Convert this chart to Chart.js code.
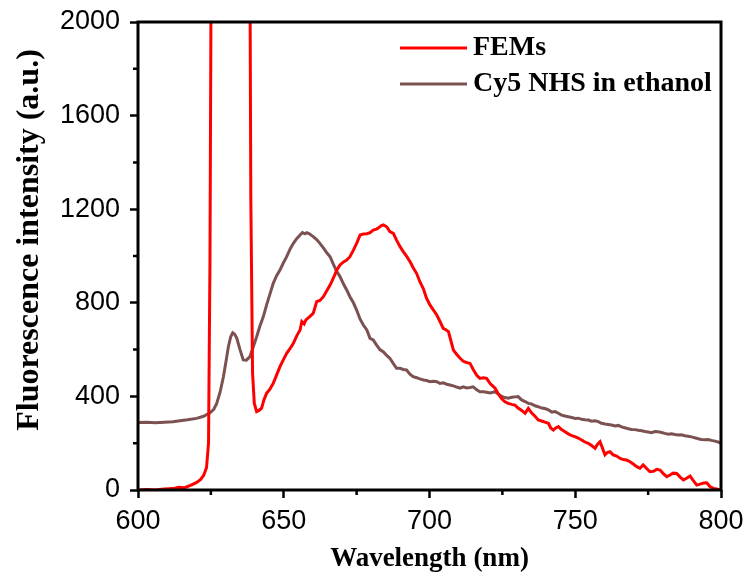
<!DOCTYPE html>
<html>
<head>
<meta charset="utf-8">
<script src="https://cdn.jsdelivr.net/npm/chart.js@4.4.1/dist/chart.umd.min.js"></script>
<style>
  html, body { margin: 0; padding: 0; background: #fff; }
  #wrap { width: 749px; height: 584px; }
</style>
</head>
<body>
<div id="wrap"><canvas id="chart" width="749" height="584"></canvas></div>
<script>
const COLORS = { fems: "#ff0000", cy5: "#7b5251", axis: "#000" };

const xTicks = [600, 650, 700, 750, 800];
const xMinor = [625, 675, 725, 775];
const yTicks = [0, 400, 800, 1200, 1600, 2000];
const yMinor = [200, 600, 1000, 1400, 1800];
const labels = ["FEMs", "Cy5 NHS in ethanol"];
const yTitle = "Fluorescence intensity (a.u.)";
const xTitle = "Wavelength (nm)";

// FEMs (red) — wavelength / intensity; the peak between 625 and 638 runs off scale
const femsX = [600, 603, 606, 609, 612, 614, 616, 618, 620, 621.5, 622.5, 623.5, 624.2, 624.7, 625.2,
  638.3, 638.7, 639.3, 639.9, 640.7, 641.5, 642.4, 643.2, 644.1, 645.2, 646.4, 647.5, 648.7, 649.8, 651,
  652.2, 653.3, 654.5, 655.6, 656.2, 657, 657.6, 658.8, 660.1, 661.3, 662.4, 663.6, 664.7, 665.9, 667,
  668.2, 669.3, 670.5, 671.6, 672.7, 673.9, 675, 676.2, 677.3, 678.5, 679.6, 680.7, 681.8, 682.4, 683.5,
  684.2, 685.3, 686.4, 687.6, 688.7, 689.9, 691, 692.1, 693.3, 694.4, 695.6, 696.7, 697.9, 699, 700.2,
  701.3, 702.5, 703.6, 704.7, 705.6, 706.5, 707.3, 708.2, 709.3, 710.5, 711.6, 712.7, 713.9, 715, 716.2,
  717.3, 718.5, 719.6, 720.8, 722.5, 723.6, 724.8, 725.9, 727, 728.2, 729.3, 730.4, 731.6, 732.8, 733.9,
  735, 736.2, 737.3, 738.5, 739.6, 740.8, 741.6, 742.5, 743.3, 744.2, 745.3, 746.5, 747.6, 748.8, 749.9,
  751, 752.2, 753.3, 754.5, 755.6, 756.8, 757.6, 758.5, 759.3, 760.2, 761, 761.9, 763, 764.2, 765.4,
  766.5, 767.6, 768.8, 770, 771.1, 772.2, 773.3, 774.5, 775.6, 776.8, 778, 779.1, 780.2, 781.4, 782.5,
  783.6, 784.8, 786, 787.1, 788.2, 789.4, 790.5, 791.7, 792.8, 794, 795.1, 796.2, 797.4, 798.5, 799.7];
const femsY = [0, 2, 0, 4, 6, 12, 10, 20, 31, 45, 62, 95, 200, 1000, 2600,
  2600, 1250, 500, 370, 335, 340, 350, 385, 413, 430, 456, 490, 527, 555, 584,
  605, 627, 660, 684, 720, 710, 727, 740, 755, 805, 810, 826, 850, 876, 905,
  940, 962, 975, 983, 997, 1025, 1054, 1090, 1094, 1095, 1100, 1111, 1115, 1120, 1130,
  1133, 1125, 1104, 1097, 1068, 1040, 1019, 1000, 976, 950, 925, 890, 860, 819, 790,
  770, 748, 720, 691, 685, 677, 640, 598, 580, 563, 550, 545, 541, 515, 490,
  477, 480, 477, 455, 435, 410, 390, 377, 370, 366, 363, 350, 340, 328, 349,
  330, 315, 299, 295, 290, 285, 265, 256, 265, 271, 258, 249, 240, 232, 228,
  222, 214, 205, 199, 190, 178, 195, 206, 180, 150, 160, 164, 150, 145, 135,
  130, 128, 121, 110, 100, 93, 107, 92, 78, 80, 88, 85, 70, 57, 64,
  72, 71, 55, 43, 50, 60, 40, 21, 25, 30, 31, 15, 7, 4, 0];

// Cy5 NHS in ethanol (brown)
const cy5X = [600, 603, 606, 609, 612, 614.4, 617, 620.1, 622.5, 624.7, 626, 627, 628.2, 629.3, 630.2,
  631, 631.8, 632.5, 633.2, 633.9, 635, 636.1, 637.2, 638.4, 639.5, 640.7, 641.8, 643, 644.1, 645.2,
  646.4, 647.5, 648.7, 649.8, 651, 652.2, 653.3, 654.5, 655.6, 656.4, 657.3, 657.9, 658.8, 660.1, 661.3,
  662.4, 663.6, 664.7, 665.9, 667, 668.2, 669.3, 670.5, 671.6, 672.7, 673.9, 675, 676.2, 677.3, 678.5,
  679.6, 680.7, 681.8, 683, 684.2, 685.3, 686.4, 687.6, 688.7, 689.9, 691, 692.1, 693.3, 694.4, 695.6,
  696.7, 697.9, 699, 700.2, 701.3, 702.5, 703.6, 704.7, 705.9, 707, 708.2, 709.3, 710.5, 711.6, 712.7,
  713.9, 715, 716.2, 717.3, 718.5, 719.6, 720.8, 722.5, 723.6, 724.8, 725.9, 727, 728.2, 729.3, 730.4,
  731.6, 732.8, 733.9, 735, 736.2, 737.3, 738.5, 739.6, 740.8, 742, 743.1, 744.2, 745.3, 746.5, 747.6,
  748.8, 750, 751.1, 752.2, 753.3, 754.5, 755.6, 756.8, 757.9, 759, 760.2, 761.3, 762.5, 763.6, 764.8,
  765.9, 767, 768.2, 769.3, 770.5, 771.6, 772.8, 773.9, 775, 776.2, 777.3, 778.4, 779.6, 780.7, 781.9,
  783, 784.2, 785.3, 786.4, 787.6, 788.7, 789.9, 791, 792.2, 793.3, 794.5, 795.6, 796.7, 797.9, 799, 800];
const cy5Y = [288, 290, 287, 290, 292, 296, 300, 306, 315, 330, 345, 370, 420, 484, 550,
  612, 655, 672, 665, 648, 600, 556, 555, 570, 610, 655, 700, 741, 790, 835,
  883, 915, 940, 969, 997, 1030, 1054, 1075, 1090, 1100, 1095, 1100, 1095, 1083, 1070,
  1054, 1035, 1015, 997, 965, 933, 912, 880, 855, 826, 800, 769, 730, 705, 684,
  648, 641, 620, 600, 590, 575, 563, 540, 520, 520, 515, 513, 495, 484, 480,
  475, 470, 468, 463, 465, 463, 455, 458, 452, 449, 445, 440, 435, 441, 436,
  438, 441, 428, 420, 420, 418, 415, 420, 410, 400, 395, 392, 396, 398, 399,
  385, 378, 370, 368, 360, 356, 350, 348, 342, 333, 335, 328, 320, 316, 313,
  310, 306, 307, 302, 300, 299, 294, 296, 292, 285, 282, 280, 278, 274, 276,
  270, 266, 262, 259, 258, 255, 253, 250, 248, 245, 250, 249, 246, 242, 238,
  240, 237, 235, 236, 232, 230, 227, 223, 219, 216, 215, 216, 212, 209, 205, 200];

const toPoints = (xs, ys) => xs.map((x, i) => ({ x, y: ys[i] }));

const SERIF = "'Liberation Serif', 'Times New Roman', serif";
const TICK_FONT = { family: "'Liberation Sans', Arial, sans-serif", size: 27 };
const TITLE_FONT = { family: SERIF, size: 27, weight: "bold" };

// box round the plot plus the short minor ticks
const framePlugin = {
  id: "frame",
  afterDraw(chart) {
    const { ctx, chartArea: a, scales } = chart;
    ctx.save();
    ctx.strokeStyle = COLORS.axis;
    ctx.lineWidth = 3;
    ctx.strokeRect(a.left, a.top, a.right - a.left, a.bottom - a.top);
    ctx.lineWidth = 2.5;
    ctx.beginPath();
    xMinor.forEach((v) => {
      const px = scales.x.getPixelForValue(v);
      ctx.moveTo(px, a.bottom);
      ctx.lineTo(px, a.bottom + 5);
    });
    yMinor.forEach((v) => {
      const py = scales.y.getPixelForValue(v);
      ctx.moveTo(a.left, py);
      ctx.lineTo(a.left - 5, py);
    });
    ctx.stroke();

    // y title sits a little above the middle of the axis in the original
    ctx.save();
    ctx.translate(30, (a.top + a.bottom) / 2 - 16);
    ctx.rotate(-Math.PI / 2);
    ctx.font = `bold 32px ${SERIF}`;
    ctx.fillStyle = "#000";
    ctx.textAlign = "center";
    ctx.textBaseline = "middle";
    ctx.fillText(yTitle, 0, 0);
    ctx.restore();
    ctx.restore();
  },
};

// legend drawn inside the plot, top right
const legendPlugin = {
  id: "insideLegend",
  afterDraw(chart) {
    const { ctx, chartArea: a } = chart;
    ctx.save();
    ctx.font = `bold 28px ${SERIF}`;
    ctx.textBaseline = "middle";
    chart.data.datasets.forEach((ds, i) => {
      const y = a.top + 26 + i * 36;
      const x0 = a.right - 321;
      ctx.strokeStyle = ds.borderColor;
      ctx.lineWidth = 3;
      ctx.beginPath();
      ctx.moveTo(x0, y);
      ctx.lineTo(x0 + 67, y);
      ctx.stroke();
      ctx.fillStyle = "#000";
      ctx.fillText(ds.label, x0 + 73, y);
    });
    ctx.restore();
  },
};

new Chart(document.getElementById("chart"), {
  type: "line",
  data: {
    datasets: [
      { label: labels[0], data: toPoints(femsX, femsY), borderColor: COLORS.fems },
      { label: labels[1], data: toPoints(cy5X, cy5Y), borderColor: COLORS.cy5 },
    ],
  },
  options: {
    responsive: false,
    animation: false,
    layout: { padding: { top: 22, right: 28, left: 0, bottom: 0 } },
    elements: { point: { radius: 0 }, line: { borderWidth: 3, tension: 0 } },
    plugins: { legend: { display: false }, tooltip: { enabled: false } },
    scales: {
      x: {
        type: "linear",
        min: 600,
        max: 800,
        afterBuildTicks: (s) => { s.ticks = xTicks.map((value) => ({ value })); },
        afterFit: (s) => { s.height = 94; s.paddingLeft = 0; s.paddingRight = 0; },
        ticks: { color: "#000", font: TICK_FONT, padding: 7, maxRotation: 0, callback: (v) => String(v) },
        grid: { drawOnChartArea: false, tickLength: 8, tickWidth: 2.5, tickColor: COLORS.axis },
        border: { display: false },
        title: { display: true, text: xTitle, color: "#000", font: TITLE_FONT, padding: { top: 0, bottom: 9 } },
      },
      y: {
        min: 0,
        max: 2000,
        afterBuildTicks: (s) => { s.ticks = yTicks.map((value) => ({ value })); },
        afterFit: (s) => { s.width = 138; s.paddingTop = 0; s.paddingBottom = 0; },
        ticks: { color: "#000", font: TICK_FONT, padding: 10, callback: (v) => String(v) },
        grid: { drawOnChartArea: false, tickLength: 8, tickWidth: 2.5, tickColor: COLORS.axis },
        border: { display: false },
        title: { display: false },
      },
    },
  },
  plugins: [framePlugin, legendPlugin],
});
</script>
</body>
</html>
